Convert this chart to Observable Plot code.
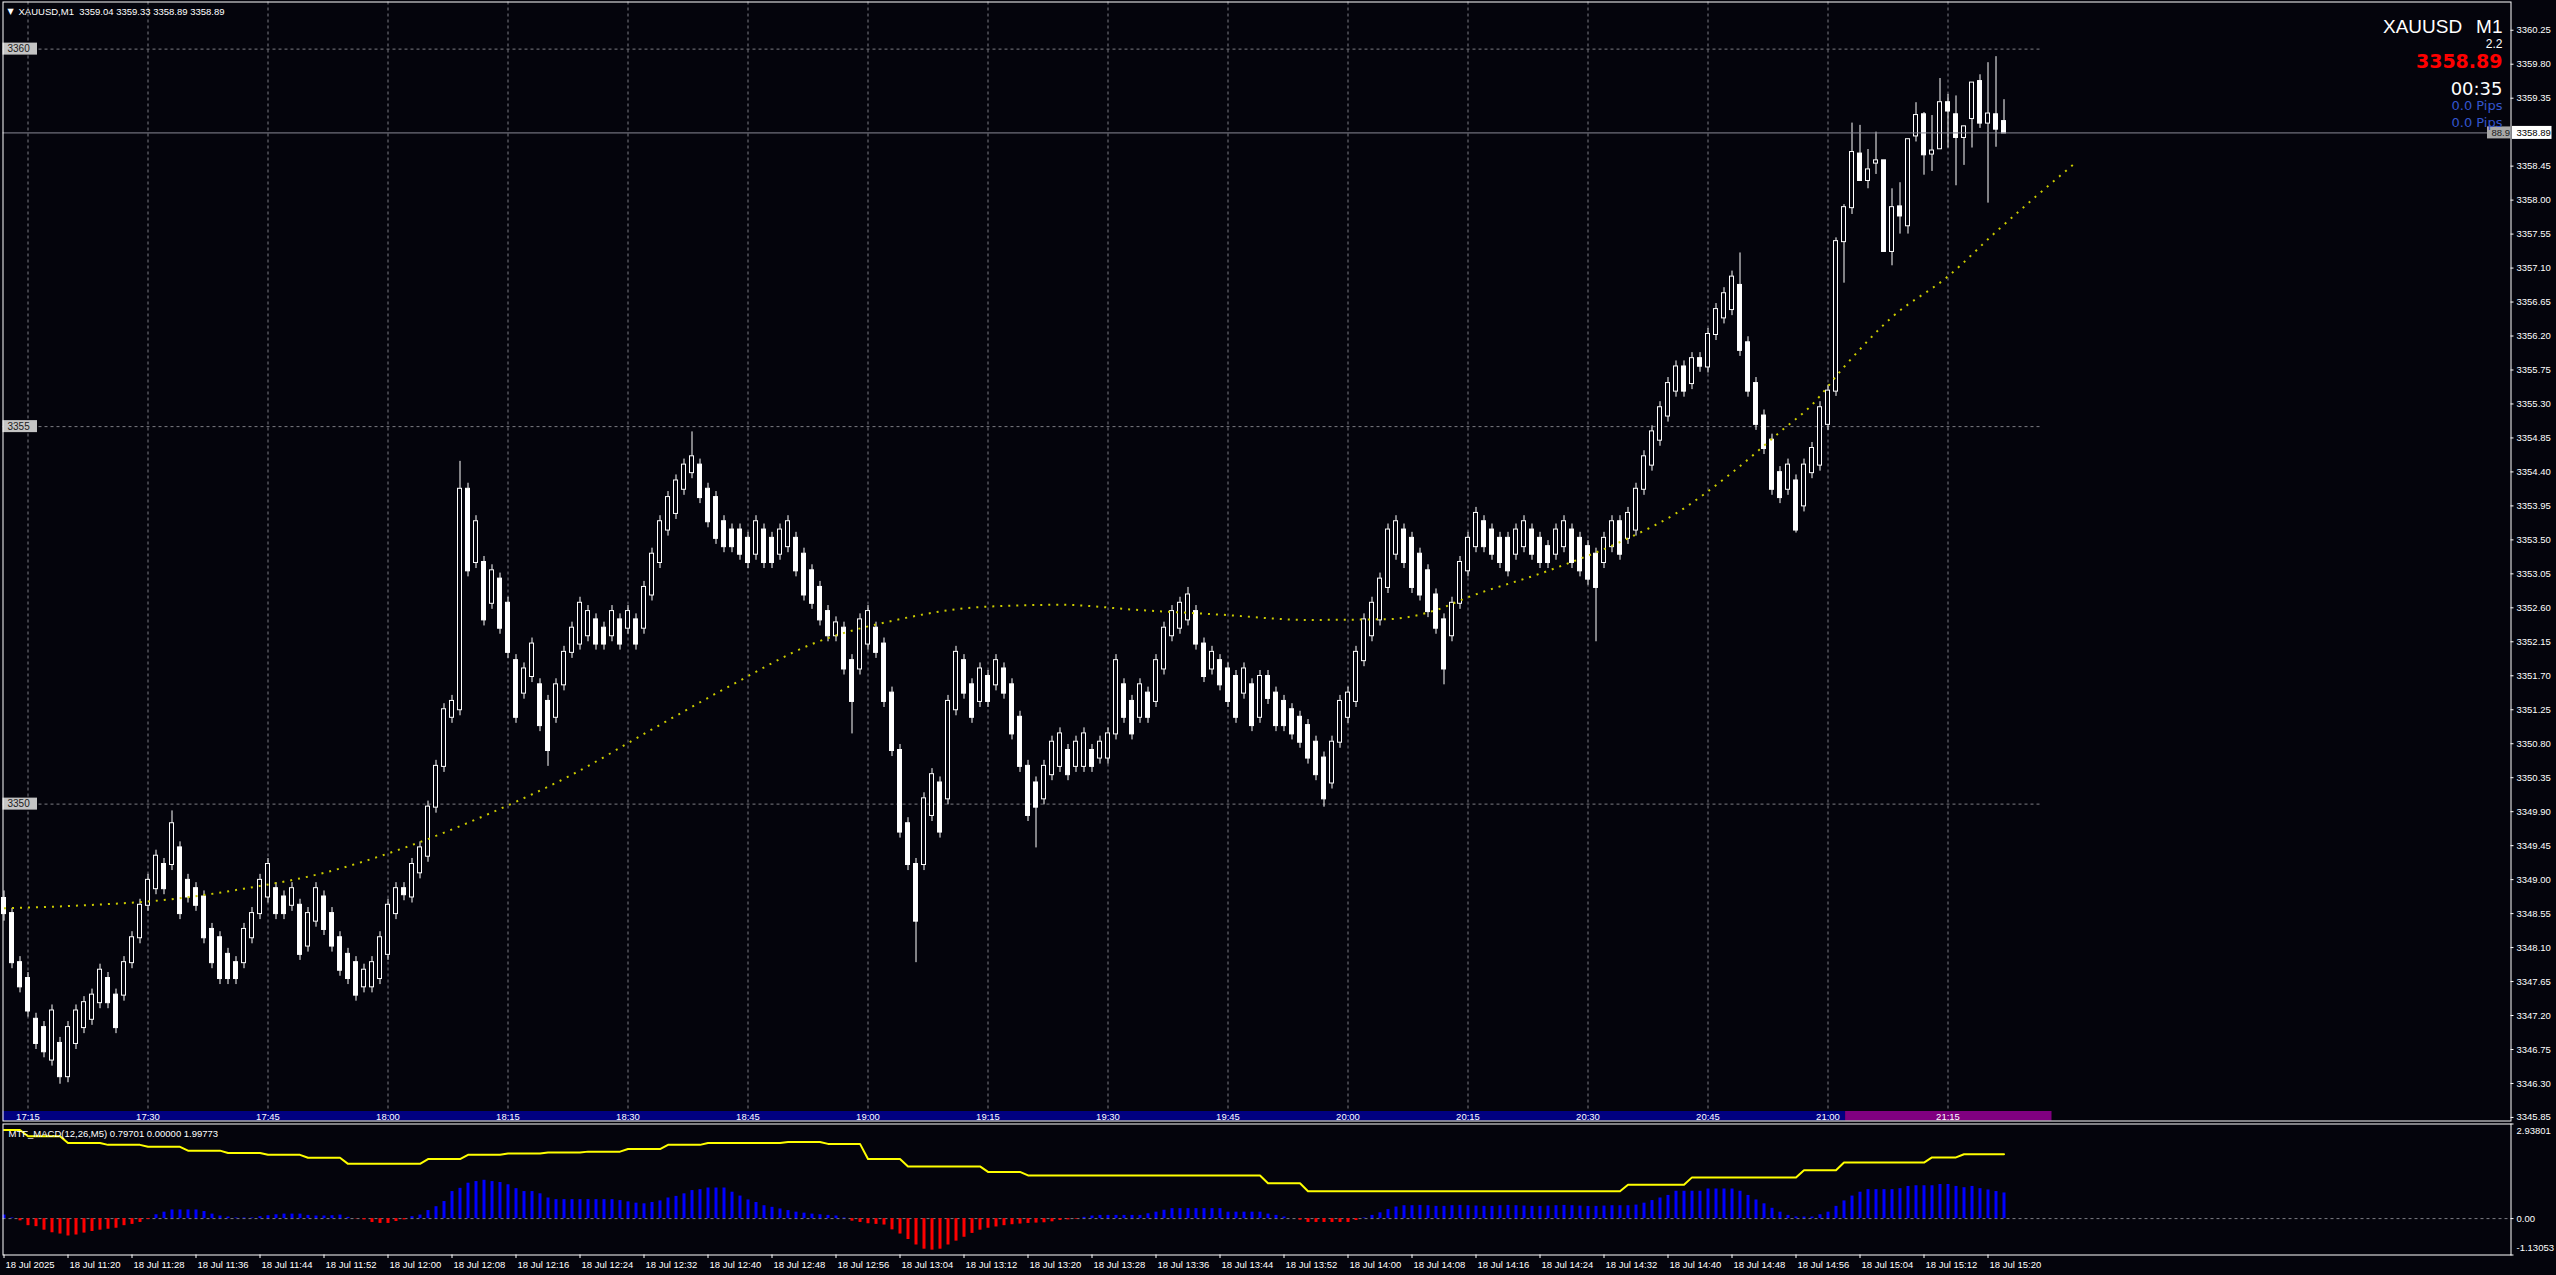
<!DOCTYPE html>
<html><head><meta charset="utf-8">
<script src="https://cdn.jsdelivr.net/npm/d3@7"></script>
<script src="https://cdn.jsdelivr.net/npm/@observablehq/plot@0.6"></script>
<style>
html,body{margin:0;padding:0;background:#04040c;overflow:hidden}
#chart{position:relative;width:2556px;height:1275px;background:#04040c}
#chart svg{display:block}
</style></head><body><div id="chart"></div><script>
// ---------------- data ----------------
const symbol = "XAUUSD", timeframe = "M1";
const barStartClock = "17:12";      // chart clock of bar 0
const macdStartClock = "11:12";     // server clock of bar 0 (MACD window)
const headerOHLC = ["3359.04", "3359.33", "3358.89", "3358.89"];
const spreadText = "2.2", countdownText = "00:35", pipsTexts = ["0.0 Pips", "0.0 Pips"];
const lastPriceText = "3358.89", hiddenTagText = "88.9";

const opens = [3348.75,
3348.55,3347.90,3347.69,3347.15,3347.04,3346.61,3346.83,3346.39,3346.83,3347.04,
3347.15,3347.37,3347.69,3347.47,3347.47,3347.90,3348.23,3348.66,3348.88,3349.20,
3349.20,3349.42,3348.99,3348.88,3348.77,3348.34,3348.23,3348.01,3347.90,3347.90,
3348.23,3348.55,3348.77,3348.88,3348.77,3348.66,3348.66,3348.12,3348.45,3348.77,
3348.55,3348.23,3348.01,3347.90,3347.58,3347.58,3347.69,3348.01,3348.55,3348.88,
3348.77,3349.09,3349.31,3349.96,3350.50,3351.15,3351.25,3354.17,3353.20,3353.20,
3352.66,3352.98,3352.66,3351.90,3351.47,3351.69,3351.58,3351.36,3351.15,3351.58,
3352.01,3352.12,3352.23,3352.44,3352.33,3352.23,3352.44,3352.33,3352.44,3352.33,
3352.77,3353.20,3353.63,3353.85,3354.17,3354.39,3354.49,3354.17,3354.06,3353.74,
3353.63,3353.63,3353.52,3353.31,3353.63,3353.52,3353.31,3353.41,3353.52,3353.31,
3353.09,3352.87,3352.55,3352.23,3352.33,3351.90,3351.79,3352.12,3352.33,3352.12,
3351.47,3350.71,3349.74,3349.20,3349.20,3349.85,3350.28,3350.07,3351.25,3351.90,
3351.58,3351.36,3351.69,3351.58,3351.79,3351.58,3351.15,3350.50,3350.28,3350.07,
3350.39,3350.50,3350.71,3350.50,3350.50,3350.71,3350.61,3350.61,3350.93,3351.58,
3351.36,3351.15,3351.47,3351.36,3351.79,3352.23,3352.33,3352.44,3352.55,3352.12,
3351.79,3351.90,3351.79,3351.69,3351.47,3351.58,3351.15,3351.69,3351.47,3351.36,
3351.25,3351.15,3351.04,3350.82,3350.61,3350.28,3350.82,3351.15,3351.36,3351.90,
3352.23,3352.44,3352.87,3353.31,3353.63,3353.52,3353.31,3353.09,3352.77,3352.44,
3352.23,3352.66,3353.09,3353.41,3353.74,3353.63,3353.52,3353.52,3353.31,3353.41,
3353.63,3353.52,3353.41,3353.31,3353.41,3353.63,3353.52,3353.41,3353.31,3353.20,
3353.41,3353.74,3353.52,3353.63,3354.17,3354.49,3354.82,3355.14,3355.47,3355.79,
3355.57,3355.90,3355.79,3356.22,3356.44,3356.55,3356.87,3356.11,3355.57,3355.14,
3354.82,3354.39,3354.17,3354.28,3353.95,3354.39,3354.49,3355.03,3355.47,3357.45,
3357.90,3358.61,3358.26,3358.49,3358.52,3357.32,3357.91,3357.66,3358.85,3359.13,
3358.61,3358.68,3359.29,3359.13,3358.83,3359.08,3359.57,3359.02,3359.13,3359.04];
const closes = [3348.55,
3347.90,3347.58,3347.26,3346.83,3346.72,3347.26,3346.39,3347.04,3347.26,3347.37,
3347.47,3347.80,3347.37,3347.04,3347.90,3348.23,3348.66,3348.99,3349.31,3348.88,
3349.74,3348.55,3348.77,3348.66,3348.23,3347.90,3347.69,3347.69,3347.69,3348.34,
3348.55,3348.99,3349.20,3348.55,3348.55,3348.88,3348.01,3348.55,3348.88,3348.34,
3348.12,3347.80,3347.69,3347.47,3347.80,3347.90,3348.23,3348.66,3348.88,3348.80,
3349.20,3349.42,3349.96,3350.50,3351.25,3351.36,3354.17,3353.09,3353.74,3352.44,
3353.09,3352.33,3352.01,3351.15,3351.79,3352.12,3351.04,3350.71,3351.58,3352.01,
3352.33,3352.66,3352.55,3352.12,3352.12,3352.55,3352.12,3352.55,3352.12,3352.87,
3353.31,3353.74,3354.06,3354.28,3354.49,3354.60,3354.06,3353.74,3353.52,3353.41,
3353.41,3353.31,3353.20,3353.74,3353.20,3353.20,3353.63,3353.74,3353.09,3352.77,
3352.66,3352.44,3352.23,3352.40,3351.79,3351.36,3352.44,3352.55,3352.01,3351.36,
3350.71,3349.63,3349.20,3348.45,3350.07,3350.39,3349.63,3351.36,3352.01,3351.47,
3351.15,3351.79,3351.36,3351.90,3351.47,3350.93,3350.50,3349.85,3349.96,3350.50,
3350.82,3350.93,3350.39,3350.82,3350.93,3350.50,3350.82,3350.93,3351.90,3351.15,
3350.93,3351.58,3351.15,3351.90,3352.33,3352.55,3352.66,3352.77,3352.12,3351.69,
3352.01,3351.58,3351.36,3351.15,3351.79,3351.04,3351.69,3351.40,3351.04,3351.04,
3350.93,3350.82,3350.61,3350.39,3350.07,3350.82,3351.36,3351.47,3352.01,3352.44,
3352.66,3352.98,3353.63,3353.74,3353.20,3352.87,3352.77,3352.55,3352.33,3351.79,
3352.66,3353.20,3353.52,3353.85,3353.41,3353.31,3353.20,3353.09,3353.63,3353.74,
3353.31,3353.20,3353.20,3353.63,3353.74,3353.20,3353.09,3352.98,3352.87,3353.52,
3353.74,3353.31,3353.85,3354.17,3354.60,3354.93,3355.25,3355.57,3355.79,3355.47,
3355.90,3355.80,3356.22,3356.55,3356.76,3356.98,3356.01,3355.47,3355.03,3354.71,
3354.17,3354.06,3354.49,3353.63,3354.49,3354.71,3355.25,3355.47,3357.45,3357.90,
3358.63,3358.26,3358.40,3358.52,3357.32,3357.90,3357.79,3358.80,3359.12,3358.60,
3358.65,3359.29,3359.18,3358.83,3358.97,3359.55,3359.02,3359.14,3358.94,3358.89];
const highs = [3348.85,
3348.62,3347.98,3347.77,3347.23,3347.12,3347.34,3346.91,3347.12,3347.34,3347.45,
3347.55,3347.88,3347.77,3347.55,3347.98,3348.31,3348.74,3349.07,3349.39,3349.28,
3349.91,3349.50,3349.07,3348.96,3348.85,3348.42,3348.31,3348.09,3347.98,3348.42,
3348.63,3349.07,3349.28,3348.96,3348.85,3348.96,3348.74,3348.63,3348.96,3348.85,
3348.63,3348.31,3348.09,3347.98,3347.88,3347.98,3348.31,3348.74,3348.96,3348.96,
3349.28,3349.50,3350.04,3350.58,3351.33,3351.44,3354.54,3354.25,3353.82,3353.28,
3353.17,3353.06,3352.74,3351.98,3351.87,3352.20,3351.66,3351.44,3351.66,3352.09,
3352.41,3352.74,3352.63,3352.52,3352.41,3352.63,3352.52,3352.63,3352.52,3352.95,
3353.39,3353.82,3354.14,3354.36,3354.57,3354.93,3354.57,3354.25,3354.14,3353.82,
3353.71,3353.71,3353.60,3353.82,3353.71,3353.60,3353.71,3353.82,3353.60,3353.39,
3353.17,3352.95,3352.63,3352.48,3352.41,3351.98,3352.52,3352.63,3352.41,3352.20,
3351.55,3350.79,3349.82,3349.28,3350.15,3350.47,3350.36,3351.44,3352.09,3351.98,
3351.66,3351.87,3351.77,3351.98,3351.87,3351.66,3351.23,3350.58,3350.36,3350.58,
3350.90,3351.01,3350.79,3350.90,3351.01,3350.79,3350.90,3351.01,3351.98,3351.66,
3351.44,3351.66,3351.55,3351.98,3352.41,3352.63,3352.74,3352.87,3352.63,3352.20,
3352.09,3351.98,3351.87,3351.77,3351.87,3351.66,3351.77,3351.77,3351.55,3351.44,
3351.33,3351.23,3351.12,3350.90,3350.69,3350.90,3351.44,3351.55,3352.09,3352.52,
3352.74,3353.06,3353.71,3353.82,3353.71,3353.60,3353.39,3353.17,3352.85,3352.52,
3352.74,3353.28,3353.60,3353.93,3353.82,3353.71,3353.60,3353.60,3353.71,3353.82,
3353.71,3353.60,3353.49,3353.71,3353.82,3353.71,3353.60,3353.49,3353.39,3353.60,
3353.82,3353.82,3353.93,3354.25,3354.68,3355.01,3355.33,3355.65,3355.87,3355.87,
3355.98,3355.98,3356.30,3356.63,3356.84,3357.06,3357.30,3356.19,3355.65,3355.22,
3354.90,3354.47,3354.57,3354.36,3354.57,3354.79,3355.33,3355.55,3357.50,3357.94,
3359.02,3358.99,3358.67,3358.90,3358.52,3358.15,3358.23,3358.80,3359.29,3359.16,
3359.12,3359.61,3359.40,3359.38,3358.98,3359.55,3359.66,3359.82,3359.90,3359.33];
const lows = [3348.45,
3347.82,3347.50,3347.18,3346.75,3346.64,3346.53,3346.29,3346.31,3346.75,3346.96,
3347.07,3347.29,3347.29,3346.96,3347.39,3347.82,3348.15,3348.58,3348.80,3348.80,
3349.12,3348.47,3348.69,3348.58,3348.15,3347.82,3347.61,3347.61,3347.61,3347.82,
3348.15,3348.47,3348.69,3348.47,3348.47,3348.58,3347.93,3348.04,3348.37,3348.26,
3348.04,3347.72,3347.61,3347.39,3347.50,3347.50,3347.61,3347.93,3348.47,3348.72,
3348.69,3349.01,3349.23,3349.88,3350.42,3351.07,3351.17,3353.01,3353.12,3352.36,
3352.58,3352.25,3351.93,3351.07,3351.39,3351.61,3350.96,3350.50,3351.07,3351.50,
3351.93,3352.04,3352.15,3352.04,3352.04,3352.15,3352.04,3352.25,3352.04,3352.25,
3352.69,3353.12,3353.55,3353.77,3354.09,3354.31,3353.98,3353.66,3353.44,3353.33,
3353.33,3353.23,3353.12,3353.23,3353.12,3353.12,3353.23,3353.33,3353.01,3352.69,
3352.58,3352.36,3352.15,3352.15,3351.71,3350.93,3351.71,3352.04,3351.93,3351.28,
3350.63,3349.55,3349.12,3347.90,3349.12,3349.77,3349.55,3349.99,3351.17,3351.39,
3351.07,3351.28,3351.28,3351.50,3351.39,3350.85,3350.42,3349.77,3349.42,3349.99,
3350.31,3350.42,3350.31,3350.42,3350.42,3350.42,3350.53,3350.53,3350.85,3351.07,
3350.85,3351.07,3351.07,3351.28,3351.71,3352.15,3352.25,3352.36,3352.04,3351.61,
3351.71,3351.50,3351.28,3351.07,3351.39,3350.96,3351.07,3351.32,3350.96,3350.96,
3350.85,3350.74,3350.53,3350.31,3349.96,3350.20,3350.74,3351.07,3351.28,3351.82,
3352.15,3352.36,3352.79,3353.23,3353.12,3352.79,3352.69,3352.47,3352.25,3351.58,
3352.15,3352.58,3353.01,3353.33,3353.33,3353.23,3353.12,3353.01,3353.23,3353.33,
3353.23,3353.12,3353.12,3353.23,3353.33,3353.12,3353.01,3352.90,3352.15,3353.12,
3353.33,3353.23,3353.44,3353.55,3354.09,3354.41,3354.74,3355.06,3355.39,3355.39,
3355.49,3355.72,3355.71,3356.14,3356.36,3356.47,3355.93,3355.39,3354.95,3354.63,
3354.09,3353.98,3354.09,3353.59,3353.87,3354.31,3354.41,3354.95,3355.40,3356.90,
3357.81,3358.25,3358.15,3358.34,3357.32,3357.13,3357.55,3357.55,3358.77,3358.33,
3358.38,3358.68,3358.69,3358.19,3358.46,3358.69,3358.95,3357.96,3358.70,3358.89];

const maBar = [0,10,20,30,40,50,61,71,81,91,101,112,122,132,142,152,163,173,179,183,193,203,209,216,222,226,230,236,243,249,254,259];
const maValue = [3348.62,3348.66,3348.73,3348.88,3349.09,3349.42,3349.89,3350.39,3350.99,3351.58,3352.12,3352.45,3352.61,3352.64,3352.57,3352.51,3352.44,3352.45,3352.57,3352.74,3353.09,3353.52,3353.85,3354.39,3354.93,3355.29,3355.79,3356.45,3356.99,3357.58,3358.05,3358.50];

const macdHist = [0.11,0.02,-0.07,-0.22,-0.25,-0.36,-0.44,-0.48,-0.54,-0.51,
-0.45,-0.40,-0.36,-0.33,-0.30,-0.22,-0.18,-0.12,-0.03,0.12,
0.20,0.27,0.27,0.27,0.27,0.22,0.14,0.08,0.05,0.02,
0.02,0.02,0.06,0.09,0.12,0.14,0.14,0.14,0.10,0.08,
0.08,0.09,0.11,0.04,-0.01,-0.04,-0.12,-0.15,-0.15,-0.09,
-0.04,0.06,0.11,0.25,0.37,0.53,0.84,0.94,1.10,1.15,
1.19,1.15,1.12,1.05,0.93,0.84,0.84,0.77,0.64,0.59,
0.59,0.59,0.59,0.59,0.59,0.59,0.59,0.56,0.52,0.48,
0.46,0.50,0.55,0.64,0.69,0.77,0.87,0.90,0.95,0.95,
0.95,0.82,0.70,0.58,0.50,0.40,0.35,0.30,0.25,0.20,
0.17,0.14,0.12,0.10,0.08,0.02,-0.08,-0.12,-0.16,-0.18,
-0.20,-0.35,-0.48,-0.65,-0.82,-0.95,-0.98,-0.95,-0.82,-0.70,
-0.58,-0.46,-0.36,-0.30,-0.26,-0.22,-0.19,-0.17,-0.15,-0.14,
-0.13,-0.10,-0.06,-0.04,-0.02,0.04,0.08,0.10,0.10,0.10,
0.10,0.10,0.10,0.15,0.20,0.26,0.31,0.31,0.31,0.31,
0.31,0.31,0.31,0.20,0.20,0.20,0.20,0.20,0.14,0.10,
0.05,0.00,-0.05,-0.12,-0.12,-0.12,-0.12,-0.12,-0.12,-0.06,
0.02,0.10,0.18,0.28,0.36,0.40,0.40,0.41,0.40,0.38,
0.38,0.40,0.41,0.40,0.39,0.38,0.38,0.40,0.41,0.40,
0.39,0.38,0.38,0.39,0.40,0.41,0.40,0.39,0.38,0.38,
0.39,0.40,0.40,0.40,0.42,0.48,0.56,0.64,0.72,0.85,
0.85,0.85,0.85,0.92,0.92,0.92,0.92,0.85,0.72,0.58,
0.46,0.32,0.20,0.10,0.05,0.05,0.05,0.12,0.20,0.38,
0.55,0.70,0.82,0.90,0.90,0.90,0.90,0.93,1.00,1.02,
1.02,1.02,1.06,1.06,1.00,0.96,1.00,0.93,0.89,0.84,
0.797];
const signalBar = [0,2,3,7,8,12,13,17,18,22,23,27,28,32,33,37,38,42,43,52,53,57,58,62,63,67,68,72,73,77,78,82,83,87,88,97,98,102,103,107,108,112,113,122,123,127,128,157,158,162,163,202,203,210,211,224,225,229,230,240,241,244,245,250];
const signalValue = [2.75,2.75,2.56,2.56,2.35,2.35,2.29,2.29,2.23,2.23,2.11,2.11,2.04,2.04,1.98,1.98,1.89,1.89,1.70,1.70,1.85,1.85,1.98,1.98,2.02,2.02,2.05,2.05,2.08,2.08,2.16,2.16,2.29,2.29,2.35,2.35,2.38,2.38,2.32,2.32,1.85,1.85,1.62,1.62,1.45,1.45,1.34,1.34,1.10,1.10,0.85,0.85,1.05,1.05,1.28,1.28,1.50,1.50,1.74,1.74,1.90,1.90,2.0,1.99773];
const macdTitle = "MTF_MACD(12,26,M5) 0.79701 0.00000 1.99773";
const macdRange = [-1.13053, 2.93801];
const macdAxisLabels = ["2.93801", "0.00", "-1.13053"];

const priceRange = [3345.803, 3360.624];
const priceTicks = [3345.85,3346.30,3346.75,3347.20,3347.65,3348.10,3348.55,3349.00,3349.45,3349.90,3350.35,3350.80,3351.25,3351.70,3352.15,3352.60,3353.05,3353.50,3353.95,3354.40,3354.85,3355.30,3355.75,3356.20,3356.65,3357.10,3357.55,3358.00,3358.45,3359.35,3359.80,3360.25];
const roundLevels = [3350, 3355, 3360];
const timeLabels = ["17:15","17:30","17:45","18:00","18:15","18:30","18:45","19:00","19:15","19:30","19:45","20:00","20:15","20:30","20:45","21:00","21:15"];
const macdLabels = ["18 Jul 2025","18 Jul 11:20","18 Jul 11:28","18 Jul 11:36","18 Jul 11:44","18 Jul 11:52","18 Jul 12:00","18 Jul 12:08","18 Jul 12:16","18 Jul 12:24","18 Jul 12:32","18 Jul 12:40","18 Jul 12:48","18 Jul 12:56","18 Jul 13:04","18 Jul 13:12","18 Jul 13:20","18 Jul 13:28","18 Jul 13:36","18 Jul 13:44","18 Jul 13:52","18 Jul 14:00","18 Jul 14:08","18 Jul 14:16","18 Jul 14:24","18 Jul 14:32","18 Jul 14:40","18 Jul 14:48","18 Jul 14:56","18 Jul 15:04","18 Jul 15:12","18 Jul 15:20"];
const sessionStartBar = 230.2, sessionEndBar = 256;   // purple session strip on time bar
const chartShiftBar = 254.6;                          // end of data area (grid stops here)

// ---------------- build ----------------
const BG = "#04040c", GRID = "#7c7c84";
const FONT = '"Liberation Sans", Arial, sans-serif';
const toMin = s => { const [h, m] = s.split(":").map(Number); return h * 60 + m; };
const candles = opens.map((o, k) => ({i: k, open: o, high: highs[k], low: lows[k], close: closes[k]}));
const last = candles[candles.length - 1];
const ma = maBar.map((b, k) => ({i: b, v: maValue[k]}));
const hist = macdHist.map((v, k) => ({i: k, v}));
const sig = signalBar.map((b, k) => ({i: b, v: signalValue[k]}));
const timeTicks = timeLabels.map(t => ({i: toMin(t) - toMin(barStartClock), label: t}));
const macdTicks = macdLabels.map((t, k) => ({i: k === 0 ? 0 : toMin(t.slice(7)) - toMin(macdStartClock), label: t}));
const xDomain = [-0.125, 313.375];
const style = {background: "transparent", fontFamily: FONT, fontSize: "9.5px", color: "#fff", overflow: "visible"};

const main = Plot.plot({
  width: 2556, height: 1122,
  marginLeft: 2.5, marginRight: 45.5, marginTop: 1.5, marginBottom: 1.5,
  style,
  x: {domain: xDomain, axis: null},
  y: {domain: priceRange, axis: null},
  marks: [
    Plot.ruleX(timeTicks, {x: "i", stroke: GRID, strokeDasharray: "3,3"}),
    Plot.ruleY(roundLevels, {x1: xDomain[0], x2: chartShiftBar, stroke: GRID, strokeDasharray: "3,3"}),
    Plot.ruleX(candles, {x: "i", y1: "low", y2: "high", stroke: "#fff"}),
    Plot.rect(candles, {x1: d => d.i - 0.25, x2: d => d.i + 0.25, y1: "open", y2: "close",
      fill: d => d.close > d.open ? BG : "#ffffff", stroke: "#ffffff", insetTop: -0.5, insetBottom: -0.5}),
    Plot.line(ma, {x: "i", y: "v", stroke: "#cccc00", strokeWidth: 2, strokeDasharray: "2,6", strokeLinecap: "butt", curve: "monotone-x"}),
    Plot.ruleY([last.close], {stroke: "#8a8a96"}),
    Plot.rect([0], {x1: xDomain[0], x2: sessionStartBar, y1: priceRange[0], y2: priceRange[0], insetTop: -9.5, fill: "#000080"}),
    Plot.rect([0], {x1: sessionStartBar, x2: sessionEndBar, y1: priceRange[0], y2: priceRange[0], insetTop: -9.5, fill: "#800080"}),
    Plot.text(timeTicks, {x: "i", y: priceRange[0], text: "label", lineAnchor: "bottom", dy: -1.5, fill: "#fff"}),
    Plot.rect(roundLevels, {x1: xDomain[0], x2: xDomain[0], y1: d => d, y2: d => d, insetRight: -34.5, insetTop: -6, insetBottom: -6, fill: "#c4c4c4"}),
    Plot.text(roundLevels, {x: xDomain[0], y: d => d, text: d => String(d), textAnchor: "start", dx: 4.5, fill: "#202020", fontSize: 10}),
    Plot.frame({stroke: "#fff"}),
    Plot.ruleY(priceTicks, {x1: xDomain[1], x2: xDomain[1], insetRight: -3, stroke: "#fff"}),
    Plot.text(priceTicks, {x: xDomain[1], y: d => d, text: d => d.toFixed(2), textAnchor: "start", dx: 5.5, fill: "#fff"}),
    // last price tags
    Plot.rect([last.close], {x1: xDomain[1], x2: xDomain[1], y1: d => d, y2: d => d, insetLeft: -23.5, insetTop: -6, insetBottom: -6, fill: "#a8a8a8"}),
    Plot.text([hiddenTagText], {x: xDomain[1], y: last.close, text: d => d, textAnchor: "end", dx: -1, fill: "#202020"}),
    Plot.rect([last.close], {x1: xDomain[1], x2: xDomain[1], y1: d => d, y2: d => d, insetLeft: 1.5, insetRight: -41, insetTop: -6.5, insetBottom: -6.5, fill: "#ffffff"}),
    Plot.text([lastPriceText], {x: xDomain[1], y: last.close, text: d => d, textAnchor: "start", dx: 5.5, fill: "#000"}),
    // header (top-left)
    Plot.text(["\u25BC"], {frameAnchor: "top-left", text: d => d, dx: 4.5, dy: 11.5, lineAnchor: "bottom", fontSize: 8, fontFamily: "DejaVu Sans", fill: "#fff"}),
    Plot.text([`${symbol},${timeframe}  ${headerOHLC.join(" ")}`], {frameAnchor: "top-left", text: d => d, dx: 15.5, dy: 12.5, lineAnchor: "bottom", fill: "#fff"}),
    // info block (top-right)
    Plot.text([symbol], {frameAnchor: "top-right", text: d => d, textAnchor: "end", dx: -48.8, dy: 30.5, lineAnchor: "bottom", fontSize: 19, fill: "#fff"}),
    Plot.text([timeframe], {frameAnchor: "top-right", text: d => d, textAnchor: "end", dx: -8.5, dy: 30.5, lineAnchor: "bottom", fontSize: 19, fill: "#fff"}),
    Plot.text([spreadText], {frameAnchor: "top-right", text: d => d, textAnchor: "end", dx: -8.5, dy: 45.5, lineAnchor: "bottom", fontSize: 12, fill: "#fff"}),
    Plot.text([lastPriceText], {frameAnchor: "top-right", text: d => d, textAnchor: "end", dx: -8.5, dy: 66, lineAnchor: "bottom", fontSize: 19, fontWeight: "bold", fontFamily: "DejaVu Sans", fill: "#ff0000"}),
    Plot.text([countdownText], {frameAnchor: "top-right", text: d => d, textAnchor: "end", dx: -8.5, dy: 92.8, lineAnchor: "bottom", fontSize: 18, fontFamily: "DejaVu Sans", fill: "#fff"}),
    Plot.text([pipsTexts[0]], {frameAnchor: "top-right", text: d => d, textAnchor: "end", dx: -8.5, dy: 107.5, lineAnchor: "bottom", fontSize: 13, fontFamily: "DejaVu Sans", fill: "#3355cc"}),
    Plot.text([pipsTexts[1]], {frameAnchor: "top-right", text: d => d, textAnchor: "end", dx: -8.5, dy: 124.5, lineAnchor: "bottom", fontSize: 13, fontFamily: "DejaVu Sans", fill: "#3355cc"})
  ]
});

const macd = Plot.plot({
  width: 2556, height: 153,
  marginLeft: 2.5, marginRight: 45.5, marginTop: 1.5, marginBottom: 20.5,
  style,
  x: {domain: xDomain, axis: null},
  y: {domain: macdRange, axis: null},
  marks: [
    Plot.ruleY([0], {stroke: GRID, strokeDasharray: "3,3"}),
    Plot.ruleX(hist, {x: "i", y1: 0, y2: "v", stroke: d => d.v >= 0 ? "#0000ff" : "#ff0000", strokeWidth: 3}),
    Plot.line(sig, {x: "i", y: "v", stroke: "#ffff00", strokeWidth: 2}),
    Plot.frame({stroke: "#fff"}),
    Plot.text([macdTitle], {frameAnchor: "top-left", text: d => d, dx: 5.5, dy: 12.5, lineAnchor: "bottom", fill: "#fff"}),
    Plot.ruleY([macdRange[1], 0, macdRange[0]], {x1: xDomain[1], x2: xDomain[1], insetRight: -3, stroke: "#fff"}),
    Plot.text([macdAxisLabels[0]], {x: xDomain[1], y: macdRange[1], text: d => d, textAnchor: "start", dx: 5.5, lineAnchor: "top", dy: 3.5, fill: "#fff"}),
    Plot.text([macdAxisLabels[1]], {x: xDomain[1], y: 0, text: d => d, textAnchor: "start", dx: 5.5, fill: "#fff"}),
    Plot.text([macdAxisLabels[2]], {x: xDomain[1], y: macdRange[0], text: d => d, textAnchor: "start", dx: 5.5, lineAnchor: "bottom", dy: -4, fill: "#fff"}),
    Plot.ruleX(macdTicks, {x: "i", y1: macdRange[0], y2: macdRange[0], insetBottom: -3.5, stroke: "#fff"}),
    Plot.text(macdTicks, {x: "i", y: macdRange[0], text: "label", textAnchor: "start", dx: 1.5, dy: 12.5, lineAnchor: "bottom", fill: "#fff"})
  ]
});

const host = document.getElementById("chart");
host.appendChild(main);
host.appendChild(macd);
</script></body></html>
